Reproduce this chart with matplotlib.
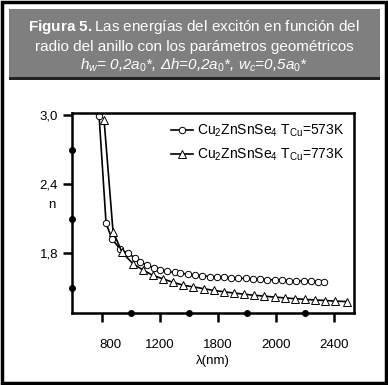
import numpy as np
import matplotlib
matplotlib.use("Agg")
import matplotlib.pyplot as plt
from matplotlib.patches import Rectangle
from matplotlib.transforms import ScaledTranslation

plt.rcParams['font.family'] = ['Liberation Sans', 'DejaVu Sans']
plt.rcParams['mathtext.fontset'] = 'custom'
plt.rcParams['mathtext.rm'] = 'Liberation Sans'
plt.rcParams['mathtext.it'] = 'Liberation Sans:italic'
plt.rcParams['mathtext.bf'] = 'Liberation Sans:bold'

# data
lam_573 = [780, 828, 869, 924, 979, 1030, 1062, 1110, 1160, 1200, 1250, 1300, 1338,
           1390, 1440, 1490, 1545, 1590, 1640, 1690, 1740, 1790, 1840, 1890, 1940,
           1990, 2040, 2090, 2140, 2190, 2240, 2290, 2330]
n_573 = [2.99, 2.06, 1.925, 1.84, 1.80, 1.76, 1.726, 1.70, 1.675, 1.657, 1.645, 1.635, 1.63,
         1.62, 1.612, 1.607, 1.60, 1.597, 1.593, 1.589, 1.586, 1.583, 1.58, 1.577, 1.574,
         1.571, 1.568, 1.565, 1.562, 1.56, 1.558, 1.556, 1.554]

lam_773 = [814, 876, 938, 1014, 1083, 1150, 1220, 1290, 1360, 1430, 1500, 1570, 1640,
           1710, 1780, 1850, 1920, 1990, 2060, 2130, 2200, 2270, 2340, 2410, 2490]
n_773 = [2.96, 1.99, 1.81, 1.71, 1.657, 1.61, 1.58, 1.55, 1.525, 1.51, 1.495, 1.48, 1.468,
         1.457, 1.447, 1.438, 1.43, 1.422, 1.415, 1.408, 1.402, 1.397, 1.392, 1.387, 1.383]

xticks = [800, 1200, 1600, 2000, 2400]
xticklabels = ['800', '1200', '1800', '2000', '2400']
xminor = [1000, 1400, 1800, 2200]
yticks = [3.0, 2.4, 1.8]
yticklabels = ['3,0', '2,4', '1,8']
yminor = [2.7, 2.1, 1.5]

W, H = 388, 385
fig = plt.figure(figsize=(W / 100, H / 100), dpi=100)

# header box
fig.patches.append(Rectangle((9 / W, 1 - 77 / H), 371 / W, 68 / H, transform=fig.transFigure,
                             facecolor='#7f7f7f', edgecolor='none'))
fig.patches.append(Rectangle((9 / W, 1 - 80 / H), 371 / W, 3 / H, transform=fig.transFigure,
                             facecolor='#222222', edgecolor='none'))
# outer frame
fig.patches.append(Rectangle((0.004, 0.004), 0.992, 0.992, transform=fig.transFigure,
                             facecolor='none', edgecolor='black', linewidth=2.5))

fig.text(194 / W, 1 - 31 / H, r"$\mathbf{Figura\ 5.}$Las energías del excitón en función del",
         ha='center', va='baseline', color='white', fontsize=11)
fig.text(194 / W, 1 - 51 / H, "radio del anillo con los parámetros geométricos",
         ha='center', va='baseline', color='white', fontsize=11)
fig.text(194 / W, 1 - 70 / H,
         r"$h_w$= 0,2$a_{\mathit{0}}$*, Δh=0,2$a_{\mathit{0}}$*, $w_c$=0,5$a_{\mathit{0}}$*",
         ha='center', va='baseline', color='white', fontsize=11, style='italic')

ax = fig.add_axes([72 / W, 1 - 313 / H, 282 / W, 200 / H])
ax.plot(lam_573, n_573, '-o', color='black', lw=1.2, markersize=4.6,
        markerfacecolor='white', markeredgewidth=0.7,
        label=r"Cu$_2$ZnSnSe$_4$ T$_{\mathrm{Cu}}$=573K")
ax.plot(lam_773, n_773, '-^', color='black', lw=1.2, markersize=5.6,
        markerfacecolor='white', markeredgewidth=0.7,
        label=r"Cu$_2$ZnSnSe$_4$ T$_{\mathrm{Cu}}$=773K")

ax.set_xlim(593, 2538)
ax.set_ylim(1.284, 3.017)
ax.set_xticks(xticks)
ax.set_xticklabels(xticklabels)
ax.set_yticks(yticks)
ax.set_yticklabels(yticklabels)
ax.tick_params(axis='both', direction='out', length=6.5, width=1.8, labelsize=9.5)
ax.tick_params(axis='x', pad=12)
ax.tick_params(axis='y', pad=3.5)
ax.xaxis.get_majorticklabels()[0].set_transform(
    ax.xaxis.get_majorticklabels()[0].get_transform() + ScaledTranslation(8 / 100, 0, fig.dpi_scale_trans))
for s in ax.spines.values():
    s.set_linewidth(1.8)

# filled dots on the axes as minor marks
ax.plot(xminor, [0] * len(xminor), 'o', color='black', markersize=4,
        transform=ax.get_xaxis_transform(), clip_on=False)
ax.plot([0] * len(yminor), yminor, 'o', color='black', markersize=4,
        transform=ax.get_yaxis_transform(), clip_on=False)

ax.set_xlabel("λ(nm)", fontsize=9.5, labelpad=3)
ax.set_ylabel("n", fontsize=9.5, rotation=0, va='center', ha='center')
ax.yaxis.set_label_coords(-0.071, 0.54)

ax.legend(loc='upper right', bbox_to_anchor=(1.0, 1.0), frameon=False, fontsize=10,
          handlelength=1.6, handletextpad=0.3, labelspacing=0.55, borderaxespad=0.3)

fig.savefig("out.png", dpi=100)
